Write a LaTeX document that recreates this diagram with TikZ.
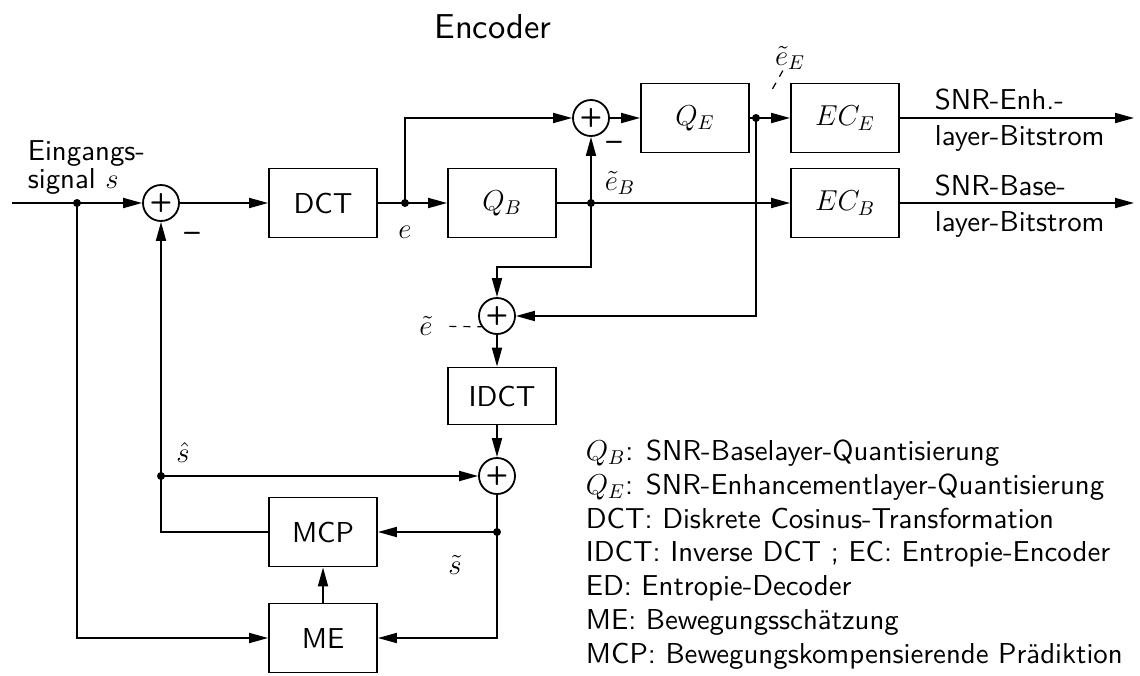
\documentclass[tikz,border=0pt]{standalone}
\usepackage{amsmath}
\usepackage{fontspec}
\setsansfont{lmsans10-regular.otf}[BoldFont=lmsans10-bold.otf]
\renewcommand{\familydefault}{\sfdefault}
\usetikzlibrary{positioning,arrows.meta,calc}

\begin{document}
\begin{tikzpicture}[
  x=0.5pt,y=-0.5pt,line width=0.9pt,
  >={Triangle[length=9.5pt,width=5pt]},
  font=\fontsize{14.4}{17}\selectfont,
  blk/.style={draw,minimum width=54pt,minimum height=34.5pt,inner sep=0pt},
  summe/.style={circle,draw,minimum size=18pt,inner sep=0pt,font=\fontsize{13}{13}\selectfont\bfseries},
  pkt/.style={circle,fill,inner sep=0pt,minimum size=4pt},
  lbl/.style={inner sep=0pt},
  zeiger/.style={line width=0.6pt,dash pattern=on 3.5pt off 3.5pt}
]
  \useasboundingbox (0,0) rectangle (1140,675);

  % Bloecke
  \node[summe] (s1) at (161,203) {+};
  \node[blk] (dct) at (323,203) {DCT};
  \node[blk] (qb) at (502,203) {$Q_B$};
  \node[summe] (s2) at (591,118) {+};
  \node[blk] (qe) at (695,118) {$Q_E$};
  \node[blk] (ece) at (845,118) {$EC_E$};
  \node[blk] (ecb) at (845,203) {$EC_B$};
  \node[summe] (s3) at (497,316) {+};
  \node[blk,minimum height=28.5pt] (idct) at (502,396) {IDCT};
  \node[summe] (s4) at (497,476) {+};
  \node[blk] (mcp) at (323,532) {MCP};
  \node[blk] (me) at (323,638) {ME};

  % Verzweigungen
  \node[pkt] (p0) at (77,203) {};
  \node[pkt] (pe) at (405,203) {};
  \node[pkt] (pb) at (591,203) {};
  \node[pkt] (pq) at (756,118) {};
  \node[pkt] (ps) at (161,476) {};
  \node[pkt] (pt) at (497,532) {};
  \coordinate (ein) at (12,203);
  \coordinate (ausE) at (1134,118);
  \coordinate (ausB) at (1134,203);

  % Signalfluss
  \draw[->] (ein) -- (s1);
  \draw[->] (s1) -- (dct);
  \draw (dct) -- (pe.center);
  \draw[->] (pe.center) -- (qb);
  \draw[->] (pe.center) |- (s2);
  \draw[->] (s2) -- (qe);
  \draw (qe) -- (pq.center);
  \draw[->] (pq.center) -- (ece);
  \draw[->] (ece) -- (ausE);
  \draw (qb) -- (pb.center);
  \draw[->] (pb.center) -- (ecb);
  \draw[->] (ecb) -- (ausB);
  \draw[->] (pb.center) -- (s2);
  \draw[->] (pb.center) -- ++(0,64) -| (s3);
  \draw[->] (pq.center) |- (s3);
  \draw[->] (s3) -- (s3 |- idct.north);
  \draw[->] (idct.south -| s4) -- (s4);
  \draw[->] (ps.center) -- (s4);
  \draw (s4) -- (pt.center);
  \draw[->] (pt.center) -- (mcp);
  \draw[->] (pt.center) |- (me);
  \draw (mcp) -| (ps.center);
  \draw[->] (ps.center) -- (s1);
  \draw[->] (me) -- (mcp);
  \draw[->] (p0.center) |- (me);

  % Beschriftungen
  \node[lbl,font=\fontsize{17.28}{20}\selectfont] (titel) at (493,27) {Encoder};
  \node[lbl,align=left,anchor=west,font=\fontsize{14.4}{14}\selectfont] (eing) at (27,168) {Eingangs-\\signal $s$};
  \node[lbl,align=left,anchor=west,font=\fontsize{14.4}{18}\selectfont] (txtE) at (934,120) {SNR-Enh.-\\layer-Bitstrom};
  \node[lbl,align=left,anchor=west,font=\fontsize{14.4}{18}\selectfont] (txtB) at (934,206) {SNR-Base-\\layer-Bitstrom};
  \node[lbl] (le) at (405,232) {$e$};
  \node[lbl] (leb) at (620,183) {$\tilde e_B$};
  \node[lbl] (lee) at (790,58) {$\tilde e_E$};
  \node[lbl] (lt) at (426,326) {$\tilde e$};
  \node[lbl] (lsh) at (183,452) {$\hat s$};
  \node[lbl] (lst) at (455,565) {$\tilde s$};
  \node[lbl] (m1) at (192,237) {\bfseries --};
  \node[lbl] (m2) at (614,146) {\bfseries --};
  \draw[zeiger,shorten >=11pt] (lee) -- (pq);
  \draw[zeiger,shorten <=8pt] (lt) -- (s3.215);

  % Legende
  \node[lbl,align=left,anchor=north west,font=\fontsize{14.4}{16.9}\selectfont] (leg) at (585,439)
       {$Q_B$: SNR-Baselayer-Quantisierung\\
        $Q_E$: SNR-Enhancementlayer-Quantisierung\\
        DCT: Diskrete Cosinus-Transformation\\
        IDCT: Inverse DCT ; EC: Entropie-Encoder\\
        ED: Entropie-Decoder\\
        ME: Bewegungsschätzung\\
        MCP: Bewegungskompensierende Prädiktion};
\end{tikzpicture}
\end{document}
